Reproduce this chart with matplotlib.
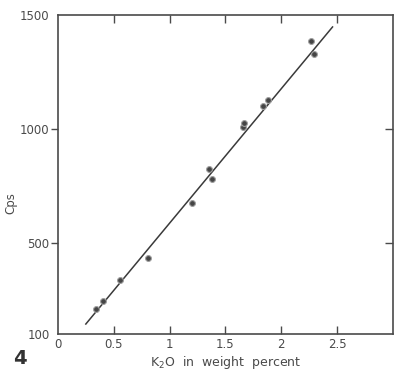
import matplotlib
matplotlib.use("Agg")
import matplotlib.pyplot as plt
from matplotlib import lines as mlines

# K2O calibration data
k2o_pct = [0.34, 0.40, 0.56, 0.81, 1.20, 1.35, 1.38, 1.66, 1.67, 1.84, 1.88, 2.27, 2.29]
cps = [210, 245, 337, 434, 675, 824, 780, 1009, 1026, 1101, 1127, 1386, 1329]

# fitted calibration line
fit_x = [0.25, 2.46]
fit_y = [144, 1447]

x_ticks = [0, 0.5, 1, 1.5, 2, 2.5]
x_labels = ["0", "0.5", "1", "1.5", "2", "2.5"]
y_ticks = [100, 500, 1000, 1500]
y_labels = ["100", "500", "1000", "1500"]

ink = "#4a4a4a"

fig = plt.figure(figsize=(3.94, 3.72), dpi=100)
ax = fig.add_axes([0.147, 0.102, 0.850, 0.858])

ax.plot(fit_x, fit_y, color="#3a3a3a", lw=1.1)
ax.plot(k2o_pct, cps, "o", ms=4.2, mfc="#454545", mec="#a0a0a0", mew=0.8, ls="none")

ax.set_xlim(0, 3.0)
ax.set_ylim(100, 1500)

ax.set_xticks(x_ticks)
ax.set_xticklabels(x_labels)
ax.set_yticks(y_ticks)
ax.set_yticklabels(y_labels)

for s in ax.spines.values():
    s.set_color(ink)
    s.set_linewidth(1.2)

ax.tick_params(axis="x", direction="in", length=6, width=1, color=ink,
               labelcolor=ink, labelsize=8.5, pad=3, top=True)
ax.tick_params(axis="y", direction="out", length=5, width=1, color=ink,
               labelcolor=ink, labelsize=8.5, pad=1, right=True)

# no tick marks at the origin
xt = ax.xaxis.get_major_ticks()
xt[0].tick1line.set_visible(False)
xt[0].tick2line.set_visible(False)

# left ticks point out, right ticks point in; none at the ends
for i, t in enumerate(ax.yaxis.get_major_ticks()):
    t.tick2line.set_marker(mlines.TICKLEFT)
    t.tick2line.set_markersize(6)
    if i in (0, len(y_ticks) - 1):
        t.tick1line.set_visible(False)
        t.tick2line.set_visible(False)

ax.set_ylabel("Cps", color=ink, fontsize=8.5)
ax.yaxis.set_label_coords(-0.12, 0.41)
ax.set_xlabel("K$_2$O  in  weight  percent", color=ink, fontsize=9, labelpad=2)

fig.text(0.05, 0.035, "4", fontsize=14, fontweight="bold", color="#333333",
         ha="center", va="center")

fig.savefig("out.png", dpi=100)
